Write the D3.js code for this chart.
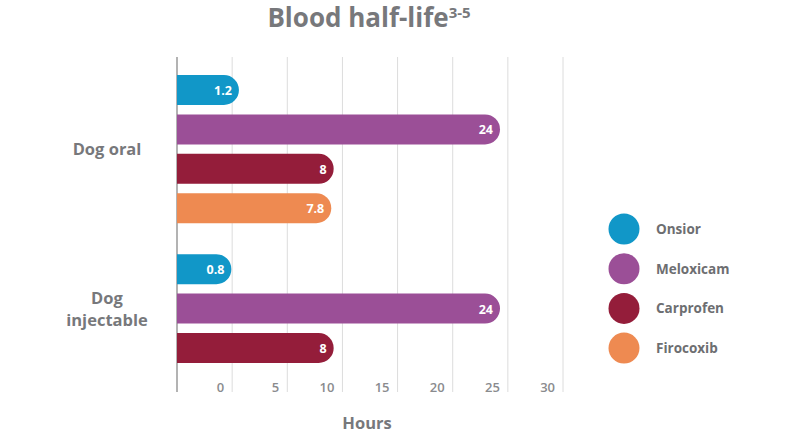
<!DOCTYPE html>
<html>
<head>
<meta charset="utf-8">
<script src="https://cdn.jsdelivr.net/npm/d3@7.9.0/dist/d3.min.js"></script>
<style>
  body { margin: 0; background: #fff; }
  svg { display: block; font-family: 'Open Sans', 'Lato', sans-serif; font-weight: 700; }
</style>
</head>
<body>
<div id="chart"></div>
<script>
// data
const groups = ['Dog oral', 'Dog injectable'];
const series = ['Onsior', 'Meloxicam', 'Carprofen', 'Firocoxib'];
const colors = ['#1197c8', '#9b4f97', '#941d3a', '#ee8a51'];
const oralValues = [1.2, 24, 8, 7.8];
const injectableValues = [0.8, 24, 8];
const valueLabels = [['1.2', '24', '8', '7.8'], ['0.8', '24', '8']];
const tickValues = [0, 5, 10, 15, 20, 25, 30];

const width = 798;
const height = 435;

// build rows: each bar gets a slot, groups separated by an extra gap
let rows = [];
[oralValues, injectableValues].forEach((vals, g) => {
  vals.forEach((v, i) => {
    rows.push({ group: g, series: i, value: v, label: valueLabels[g][i], slot: rows.length + g * 0.55 });
  });
});

const svg = d3.select('#chart')
  .append('svg')
  .attr('width', width)
  .attr('height', height);

// scales
const xGrid = d3.scaleLinear().domain([-5, 30]).range([177, 563]);
// bars in the original are not drawn to the axis scale
const xBar = d3.scalePow().exponent(0.78).domain([0, 24]).range([211, 500]);
const yScale = d3.scaleLinear().domain([0, 6.55]).range([90, 348]);
const barH = 30;
const plotTop = 57, plotBottom = 392;

// title
const title = svg.append('text')
  .attr('x', 369)
  .attr('y', 27)
  .attr('text-anchor', 'middle')
  .attr('fill', '#77787b')
  .style('font-size', '26px');
title.append('tspan').text('Blood half-life');
title.append('tspan').attr('dy', -9).style('font-size', '15px').text('3-5');

// gridlines
svg.append('g')
  .selectAll('line')
  .data(tickValues)
  .join('line')
  .attr('x1', d => xGrid(d))
  .attr('x2', d => xGrid(d))
  .attr('y1', plotTop)
  .attr('y2', plotBottom)
  .attr('stroke', '#dcdcdc')
  .attr('stroke-width', 1);

// axis line
svg.append('line')
  .attr('x1', xGrid(-5)).attr('x2', xGrid(-5))
  .attr('y1', plotTop).attr('y2', plotBottom)
  .attr('stroke', '#9a9a9a')
  .attr('stroke-width', 1.5);

// tick labels, sitting just left of each gridline
svg.append('g')
  .selectAll('text')
  .data(tickValues)
  .join('text')
  .attr('x', d => xGrid(d) - 8)
  .attr('y', 392)
  .attr('text-anchor', 'end')
  .attr('fill', '#8a8b8e')
  .style('font-size', '13px')
  .style('font-weight', 600)
  .text(d => d);

// bars: square at the axis, round at the end
function barPath(d) {
  const x0 = xGrid(-5);
  const x1 = xBar(d.value);
  const y = yScale(d.slot);
  const r = barH / 2;
  return `M${x0},${y - r} L${x1 - r},${y - r} A${r},${r} 0 0 1 ${x1 - r},${y + r} L${x0},${y + r} Z`;
}

svg.append('g')
  .selectAll('path')
  .data(rows)
  .join('path')
  .attr('d', barPath)
  .attr('fill', d => colors[d.series]);

svg.append('g')
  .selectAll('text')
  .data(rows)
  .join('text')
  .attr('x', d => xBar(d.value) - 7)
  .attr('y', d => yScale(d.slot) + 5)
  .attr('text-anchor', 'end')
  .attr('fill', '#fff')
  .style('font-size', '12.5px')
  .text(d => d.label);

// group labels
const groupCenters = groups.map((g, i) => {
  const r = rows.filter(d => d.group === i);
  return (yScale(r[0].slot) + yScale(r[r.length - 1].slot)) / 2;
});

svg.append('text')
  .attr('x', 107).attr('y', groupCenters[0] + 6)
  .attr('text-anchor', 'middle')
  .attr('fill', '#77787b')
  .style('font-size', '16.5px')
  .text('Dog oral');

const inj = svg.append('text')
  .attr('x', 107).attr('y', groupCenters[1] - 5)
  .attr('text-anchor', 'middle')
  .attr('fill', '#77787b')
  .style('font-size', '16.5px');
inj.append('tspan').attr('x', 107).text('Dog');
inj.append('tspan').attr('x', 107).attr('dy', 22).text('injectable');

// x axis title
svg.append('text')
  .attr('x', 367).attr('y', 429)
  .attr('text-anchor', 'middle')
  .attr('fill', '#77787b')
  .style('font-size', '16.5px')
  .text('Hours');

// legend
const legend = svg.append('g')
  .selectAll('g')
  .data(series)
  .join('g')
  .attr('transform', (d, i) => `translate(624, ${229 + i * 39.7})`);

legend.append('circle')
  .attr('r', 15.5)
  .attr('fill', (d, i) => colors[i]);

legend.append('text')
  .attr('x', 32)
  .attr('y', 5)
  .attr('fill', '#6d6e71')
  .style('font-size', '13.5px')
  .text(d => d);
</script>
</body>
</html>
